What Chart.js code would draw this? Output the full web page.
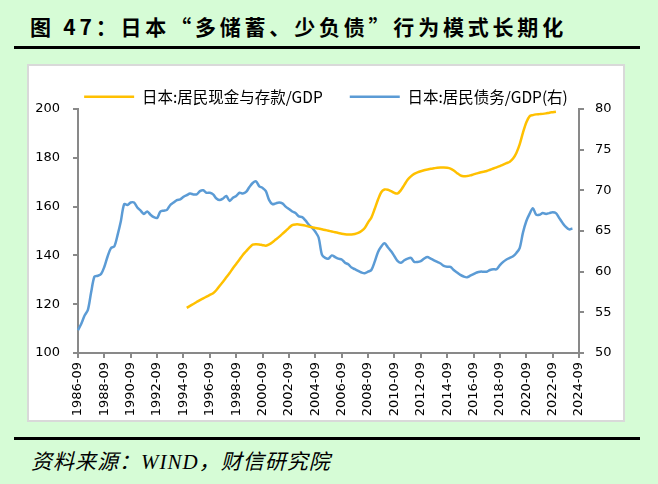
<!DOCTYPE html>
<html>
<head>
<meta charset="utf-8">
<script src="https://cdn.jsdelivr.net/npm/chart.js@4.4.1/dist/chart.umd.min.js"></script>
<style>
  body { margin: 0; background: #d6fcd6; width: 658px; height: 484px; position: relative; overflow: hidden; }
  #title { position: absolute; left: 30px; top: 11px; font-family: "Noto Sans CJK SC"; font-weight: 700; font-size: 21px; letter-spacing: 3.8px; color: #000; white-space: nowrap; }
  .rule { position: absolute; left: 14px; width: 626px; height: 3px; background: #000; }
  #box { position: absolute; left: 27px; top: 64px; width: 594px; height: 354px; background: #fff; border: 2px solid #d9d9d9; }
  #box canvas { position: absolute; left: 0; top: 0; }
  #source { position: absolute; left: 31px; top: 445px; font-family: "Noto Sans CJK SC"; font-style: italic; font-size: 21px; letter-spacing: 1px; color: #000; white-space: nowrap; }
  #source span { font-family: "Liberation Serif"; }
</style>
</head>
<body>
<div id="title">图 47：日本“多储蓄、少负债”行为模式长期化</div>
<div class="rule" style="top:46px"></div>
<div id="box"><canvas id="myChart" width="594" height="354"></canvas></div>
<div class="rule" style="top:437px"></div>
<div id="source">资料来源：<span>WIND</span>，财信研究院</div>
<script>
// quarterly categories 1986-09 .. 2024-09
var quarters = [];
for (var y = 1986; y <= 2024; y++) {
  ['03', '06', '09', '12'].forEach(function (m) {
    var label = y + '-' + m;
    if (label >= '1986-09' && label <= '2024-09') quarters.push(label);
  });
}

// 日本:居民现金与存款/GDP (left axis), from 1994-12 to 2022-12
var cashStart = '1994-12';
var cashDeposits = [
  118.5, 119.3, 120.1, 120.9, 121.7, 122.4, 123.1, 123.8, 124.5, 125.8,
  127.6, 129.2, 131.0, 132.8, 134.7, 136.5, 138.3, 140.2, 141.7, 143.2,
  144.4, 144.6, 144.5, 144.2, 144.0, 144.5, 145.4, 146.5, 147.6, 148.8,
  150.0, 151.3, 152.4, 152.7, 152.7, 152.5, 152.2, 151.8, 151.5, 151.2,
  151.0, 150.7, 150.4, 150.1, 149.8, 149.5, 149.2, 148.9, 148.7, 148.6,
  148.6, 148.8, 149.2, 150.0, 151.2, 153.5, 155.5, 159.0, 162.8, 165.9,
  167.0, 166.9, 166.3, 165.6, 165.4, 166.8, 168.9, 171.0, 172.4, 173.4,
  174.0, 174.5, 174.9, 175.2, 175.5, 175.7, 175.9, 176.0, 176.0, 175.9,
  175.6, 174.8, 173.7, 172.8, 172.4, 172.5, 172.8, 173.2, 173.6, 174.0,
  174.3, 174.6, 175.1, 175.6, 176.1, 176.6, 177.2, 177.8, 178.4, 179.7,
  182.0, 185.5, 190.3, 194.5, 197.0, 197.5, 197.8, 197.9, 198.0, 198.2,
  198.5, 198.7, 198.9
];

// 日本:居民债务/GDP(右), from 1986-09 to 2024-03
var householdDebt = [
  52.8, 53.6, 54.6, 55.3, 57.5, 59.4, 59.5, 59.7, 60.6, 61.9,
  62.9, 63.1, 64.5, 66.2, 68.3, 68.2, 68.5, 68.5, 67.9, 67.5,
  67.1, 67.4, 67.0, 66.7, 66.6, 67.4, 67.5, 67.6, 68.2, 68.5,
  68.8, 68.9, 69.2, 69.4, 69.6, 69.5, 69.5, 69.9, 70.0, 69.7,
  69.7, 69.5, 69.0, 68.8, 69.0, 69.3, 68.7, 69.1, 69.3, 69.7,
  69.6, 69.8, 70.4, 70.9, 71.1, 70.5, 70.3, 69.9, 68.8, 68.3,
  68.4, 68.5, 68.4, 68.0, 67.7, 67.4, 67.2, 66.8, 66.7, 66.3,
  65.8, 65.4, 64.9, 64.2, 62.1, 61.7, 61.6, 62.0, 61.8, 61.6,
  61.5, 61.1, 60.9, 60.5, 60.3, 60.1, 59.9, 59.8, 60.0, 60.2,
  61.2, 62.4, 63.1, 63.5, 63.0, 62.5, 61.9, 61.3, 61.1, 61.4,
  61.6, 61.7, 61.2, 61.2, 61.3, 61.6, 61.8, 61.6, 61.4, 61.2,
  61.0, 60.7, 60.6, 60.6, 60.2, 59.9, 59.6, 59.4, 59.3, 59.5,
  59.7, 59.9, 60.0, 60.0, 60.0, 60.2, 60.3, 60.3, 60.8, 61.2,
  61.5, 61.7, 61.9, 62.3, 62.9, 64.8, 66.2, 67.1, 67.8, 67.0,
  67.0, 67.2, 67.1, 67.2, 67.3, 67.2, 66.6, 66.0, 65.5, 65.2,
  65.3
];

var leftTicks = [100, 120, 140, 160, 180, 200];
var rightTicks = [50, 55, 60, 65, 70, 75, 80];

// align the cash series to the quarter labels
var lead = quarters.indexOf(cashStart);
var cashData = quarters.map(function (q, i) {
  var v = cashDeposits[i - lead];
  return v === undefined ? null : v;
});
var debtData = quarters.map(function (q, i) {
  var v = householdDebt[i];
  return v === undefined ? null : v;
});

var axisGray = '#898989';
var tickFont = { family: 'DejaVu Sans', size: 13 };

var legendSpace = {
  id: 'legendSpace',
  beforeInit: function (chart) {
    var fit = chart.legend.fit;
    chart.legend.fit = function () {
      fit.call(this);
      this.height = 47;
    };
  }
};

var ctx = document.getElementById('myChart');
var myChart = new Chart(ctx, {
  type: 'line',
  data: {
    labels: quarters,
    datasets: [{
      label: '日本:居民现金与存款/GDP',
      data: cashData,
      yAxisID: 'y',
      borderColor: '#FFC000',
      backgroundColor: '#FFC000',
      borderWidth: 2.5,
      pointRadius: 0,
      tension: 0.3
    }, {
      label: '日本:居民债务/GDP(右)',
      data: debtData,
      yAxisID: 'y1',
      borderColor: '#5B9BD5',
      backgroundColor: '#5B9BD5',
      borderWidth: 2.5,
      pointRadius: 0,
      tension: 0.3
    }]
  },
  options: {
    responsive: false,
    animation: false,
    layout: { padding: { top: -4 } },
    plugins: {
      tooltip: { enabled: false },
      legend: {
        position: 'top',
        labels: {
          boxWidth: 50,
          boxHeight: 0,
          padding: 27,
          color: '#000',
          font: { family: 'Noto Sans CJK SC', size: 15.5 }
        }
      }
    },
    scales: {
      x: {
        afterFit: function (scale) { scale.height = 67; },
        grid: {
          drawOnChartArea: false,
          tickLength: 5,
          lineWidth: 2,
          tickColor: function (c) { return c.index % 8 === 0 ? axisGray : 'rgba(0,0,0,0)'; }
        },
        border: { color: axisGray, width: 2 },
        ticks: {
          autoSkip: false,
          minRotation: 90,
          maxRotation: 90,
          padding: 4,
          color: '#000',
          font: tickFont,
          callback: function (v, i) { return i % 8 === 0 ? quarters[i] : ''; }
        }
      },
      y: {
        position: 'left',
        min: leftTicks[0],
        max: leftTicks[leftTicks.length - 1],
        afterFit: function (scale) { scale.width = 49; },
        afterBuildTicks: function (scale) { scale.ticks = leftTicks.map(function (v) { return { value: v }; }); },
        grid: { drawOnChartArea: false, tickLength: 5, lineWidth: 2, color: axisGray },
        border: { color: axisGray, width: 2 },
        ticks: { padding: 13, color: '#000', font: tickFont }
      },
      y1: {
        position: 'right',
        min: rightTicks[0],
        max: rightTicks[rightTicks.length - 1],
        afterFit: function (scale) { scale.width = 44; },
        afterBuildTicks: function (scale) { scale.ticks = rightTicks.map(function (v) { return { value: v }; }); },
        grid: { drawOnChartArea: false, tickLength: 5, lineWidth: 2, color: axisGray },
        border: { color: axisGray, width: 2 },
        ticks: { padding: 11, color: '#000', font: tickFont }
      }
    }
  },
  plugins: [legendSpace]
});
</script>
</body>
</html>
